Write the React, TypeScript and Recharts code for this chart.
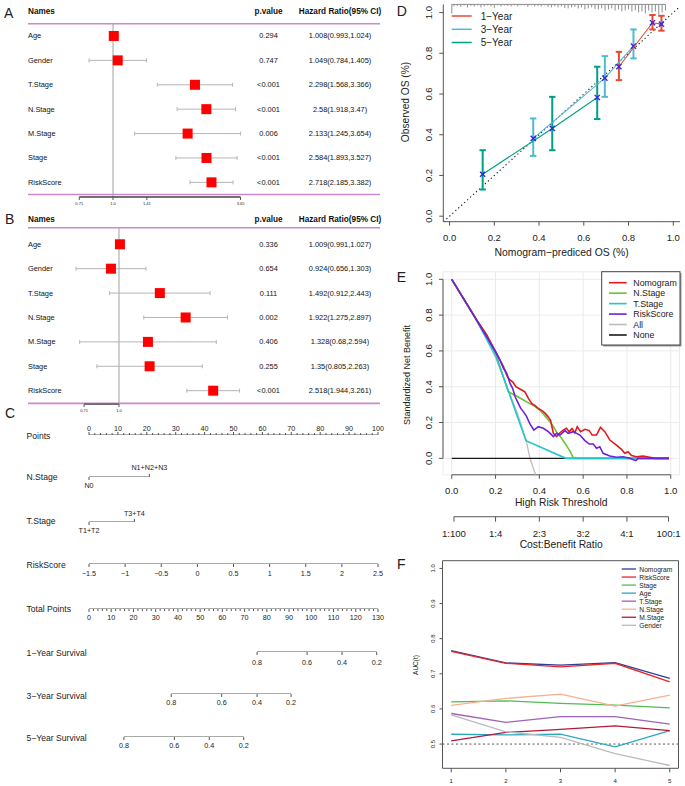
import React from "react";
import {
  ScatterChart,
  Scatter,
  LineChart,
  Line,
  ComposedChart,
  XAxis,
  YAxis,
  ErrorBar,
  ReferenceLine,
  ReferenceArea,
  CartesianGrid,
} from "recharts";

const FONT = "'Liberation Sans', Arial, Helvetica, sans-serif";
const INK = "#222";
const AXIS = "#555";
const PINK = "#CE88CE";

// A / B: Cox regression forest plots
const coxNames = ["Age", "Gender", "T.Stage", "N.Stage", "M.Stage", "Stage", "RiskScore"];
const uniHR = [1.008, 1.049, 2.298, 2.58, 2.133, 2.584, 2.718];
const uniLow = [0.993, 0.784, 1.568, 1.918, 1.245, 1.893, 2.185];
const uniHigh = [1.024, 1.405, 3.366, 3.47, 3.654, 3.527, 3.382];
const uniP = ["0.294", "0.747", "<0.001", "<0.001", "0.006", "<0.001", "<0.001"];
const uniTicks = [0.71, 1.0, 1.41, 3.65];
const uniTickLabels = ["0.71", "1.0", "1.41", "3.65"];

const multiHR = [1.009, 0.924, 1.492, 1.922, 1.328, 1.35, 2.518];
const multiLow = [0.991, 0.656, 0.912, 1.275, 0.68, 0.805, 1.944];
const multiHigh = [1.027, 1.303, 2.443, 2.897, 2.594, 2.263, 3.261];
const multiP = ["0.336", "0.654", "0.111", "0.002", "0.406", "0.255", "<0.001"];
const multiTicks = [0.71, 1.0];
const multiTickLabels = ["0.71", "1.0"];

// C: nomogram scales
const pointsTicks = Array.from({ length: 51 }, (_, k) => k * 2);
const nStageLevels = ["N0", "N1+N2+N3"];
const nStagePoints = [0, 20.9];
const tStageLevels = ["T1+T2", "T3+T4"];
const tStagePoints = [0, 15.7];
const riskScoreTicks = [-1.5, -1, -0.5, 0, 0.5, 1, 1.5, 2, 2.5];
const totalTicks = Array.from({ length: 66 }, (_, k) => k * 2);
const survLabels = ["0.8", "0.6", "0.4", "0.2"];
const surv1Points = [75.6, 98.1, 113.8, 129.4];
const surv3Points = [37.0, 59.7, 75.6, 90.9];
const surv5Points = [15.7, 38.4, 54.1, 69.6];

// D: calibration curves
const cal1Pred = [0.757, 0.907, 0.947];
const cal1Obs = [0.734, 0.95, 0.943];
const cal1Lo = [0.668, 0.917, 0.911];
const cal1Hi = [0.807, 0.988, 0.984];
const cal3Pred = [0.374, 0.694, 0.822];
const cal3Obs = [0.382, 0.678, 0.835];
const cal3Lo = [0.296, 0.586, 0.775];
const cal3Hi = [0.48, 0.786, 0.917];
const cal5Pred = [0.148, 0.459, 0.66];
const cal5Obs = [0.206, 0.431, 0.583];
const cal5Lo = [0.131, 0.324, 0.477];
const cal5Hi = [0.324, 0.586, 0.734];
const rugX = [0.01, 0.02, 0.035, 0.05, 0.065, 0.08, 0.095, 0.11, 0.125, 0.14, 0.155, 0.17, 0.185, 0.2, 0.215, 0.23, 0.245, 0.26, 0.275, 0.29, 0.305, 0.32, 0.335, 0.35, 0.365, 0.38, 0.395, 0.41, 0.425, 0.44, 0.455, 0.47, 0.485, 0.5, 0.515, 0.53, 0.545, 0.56, 0.575, 0.59, 0.605, 0.62, 0.635, 0.65, 0.665, 0.68, 0.695, 0.71, 0.725, 0.74, 0.755, 0.77, 0.785, 0.8, 0.815, 0.83, 0.845, 0.86, 0.875, 0.89, 0.905, 0.92, 0.935, 0.95, 0.965];
const rugN = [9, 2, 1.5, 2.5, 1, 3, 1.5, 2, 1, 3, 2, 1, 2, 3.5, 1, 2, 1, 1.5, 2, 1, 2, 1, 1, 2.5, 1, 2, 1.5, 2, 1, 2.5, 3, 2, 3, 2, 3.5, 4, 3, 2.5, 4, 3, 5, 4, 3, 4.5, 5, 4, 6, 5, 4, 6, 5, 7, 6, 5, 7, 6, 8, 7, 9, 6, 8, 7, 10, 8, 6];

// E: decision curves (threshold, standardized net benefit)
const dcaNomoT = [0, 0.099, 0.16, 0.2, 0.236, 0.254, 0.266, 0.278, 0.293, 0.319, 0.334, 0.35, 0.365, 0.38, 0.395, 0.415, 0.427, 0.439, 0.451, 0.464, 0.479, 0.494, 0.509, 0.524, 0.536, 0.549, 0.562, 0.573, 0.588, 0.608, 0.628, 0.641, 0.661, 0.679, 0.699, 0.722, 0.752, 0.775, 0.79, 0.805, 0.821, 0.843, 0.874, 0.904, 0.927, 0.992];
const dcaNomoV = [1, 0.801, 0.689, 0.596, 0.512, 0.456, 0.438, 0.428, 0.4, 0.382, 0.371, 0.335, 0.307, 0.294, 0.279, 0.264, 0.251, 0.233, 0.214, 0.14, 0.121, 0.143, 0.158, 0.168, 0.149, 0.166, 0.143, 0.177, 0.149, 0.162, 0.155, 0.13, 0.13, 0.173, 0.149, 0.102, 0.074, 0.05, 0.028, 0.037, 0.015, 0.009, 0.013, 0.006, 0, 0];
const dcaNT = [0, 0.099, 0.2, 0.258, 0.3, 0.327, 0.35, 0.38, 0.401, 0.42, 0.448, 0.46, 0.482, 0.5, 0.524, 0.54, 0.556, 0.992];
const dcaNV = [1, 0.801, 0.587, 0.372, 0.345, 0.326, 0.31, 0.29, 0.27, 0.245, 0.205, 0.185, 0.14, 0.115, 0.071, 0.04, 0, 0];
const dcaTT = [0, 0.099, 0.2, 0.339, 0.521, 0.992];
const dcaTV = [1, 0.801, 0.577, 0.099, 0, 0];
const dcaRiskT = [0, 0.099, 0.2, 0.22, 0.236, 0.251, 0.266, 0.278, 0.289, 0.304, 0.315, 0.327, 0.342, 0.357, 0.375, 0.395, 0.418, 0.441, 0.464, 0.479, 0.494, 0.517, 0.532, 0.555, 0.585, 0.608, 0.628, 0.646, 0.661, 0.676, 0.691, 0.722, 0.752, 0.783, 0.813, 0.84, 0.851, 0.992];
const dcaRiskV = [1, 0.801, 0.596, 0.549, 0.503, 0.475, 0.419, 0.391, 0.345, 0.307, 0.279, 0.261, 0.233, 0.192, 0.158, 0.177, 0.168, 0.149, 0.121, 0.14, 0.13, 0.155, 0.14, 0.149, 0.13, 0.099, 0.08, 0.08, 0.056, 0.065, 0.028, 0.013, 0.006, 0.009, 0, -0.013, 0, 0];
const dcaAllT = [0, 0.1, 0.2, 0.3, 0.34, 0.357, 0.383];
const dcaAllV = [1, 0.806, 0.563, 0.25, 0.1, 0, -0.092];
const dcaNoneT = [0, 0.99];
const dcaNoneV = [0, 0];
const cbTicks = [0.01, 0.2, 0.4, 0.6, 0.8, 0.99];
const cbLabels = ["1:100", "1:4", "2:3", "3:2", "4:1", "100:1"];

// F: time-dependent AUC
const aucTimes = [1, 2, 3, 4, 5];
const aucNomogram = [0.766, 0.731, 0.725, 0.732, 0.687];
const aucRiskScore = [0.764, 0.73, 0.72, 0.73, 0.677];
const aucStage = [0.62, 0.623, 0.616, 0.611, 0.603];
const aucAge = [0.528, 0.526, 0.528, 0.492, 0.538];
const aucTStage = [0.587, 0.562, 0.578, 0.578, 0.557];
const aucNStage = [0.61, 0.63, 0.642, 0.608, 0.639];
const aucMStage = [0.509, 0.533, 0.542, 0.552, 0.538];
const aucGender = [0.583, 0.535, 0.519, 0.473, 0.439];

const unitTicks = [0, 0.2, 0.4, 0.6, 0.8, 1.0];

function axisTick(o: any) {
  return (p: any) => {
    const v = p.payload.value;
    const i = p.index;
    const isUp = o.up ? o.up(i) : false;
    const isMajor = o.major ? o.major(v) : true;
    const len = isMajor ? o.len : o.minorLen ?? o.len;
    const s = isUp ? -1 : 1;
    const off = isUp ? o.offUp ?? 8 : o.offDown ?? 8;
    const label = isMajor ? o.text(v, i) : "";
    return (
      <g>
        <line x1={p.x} x2={p.x} y1={p.y} y2={p.y + s * len} stroke={o.color ?? AXIS} strokeWidth={1} />
        {label !== "" && (
          <text x={p.x} y={p.y + s * off} textAnchor="middle" dominantBaseline="central" fontSize={o.size} fontFamily={FONT} fill={INK}>
            {label}
          </text>
        )}
      </g>
    );
  };
}

function rotTick(len: number, off: number, size: number, fmt: (v: number) => string) {
  return (p: any) => {
    const tx = p.x - off;
    return (
      <g>
        <line x1={p.x} x2={p.x - len} y1={p.y} y2={p.y} stroke={AXIS} />
        <text x={tx} y={p.y} transform={`rotate(-90 ${tx} ${p.y})`} textAnchor="middle" dominantBaseline="central" fontSize={size} fontFamily={FONT} fill={INK}>
          {fmt(p.payload.value)}
        </text>
      </g>
    );
  };
}

const redSquare = (p: any) => <rect x={p.cx - 5} y={p.cy - 5} width={10} height={10} fill="#FF0000" />;

function Forest(props: any) {
  const { top, hr, low, high, pv, ticks, tickLabels, xDomain, yDomain, headerLine, bottomLine, marginTop, axisHeight } = props;
  const rows = hr.map((v: number, i: number) => ({ row: i, hr: v, err: [v - low[i], high[i] - v] }));
  const rowTicks = [-1, ...coxNames.map((_, i) => i)];
  const nameTick = (t: any) => {
    const i = t.payload.value;
    const head = i < 0;
    const common: any = { y: t.y, dominantBaseline: "central", fontFamily: FONT, fill: "#111", fontSize: head ? 8.2 : 7.4, fontWeight: head ? 700 : 400 };
    return (
      <g>
        <text x={t.x} textAnchor="start" {...common}>{head ? "Names" : coxNames[i]}</text>
        <text x={t.x + 240.5} textAnchor="middle" {...common}>{head ? "p.value" : pv[i]}</text>
        <text x={t.x + 312} textAnchor="middle" {...common}>{head ? "Hazard Ratio(95% CI)" : `${hr[i]}(${low[i]},${high[i]})`}</text>
      </g>
    );
  };
  return (
    <div style={{ position: "absolute", left: 0, top, width: 390, height: 210 }}>
      <ScatterChart width={390} height={210} margin={{ top: marginTop, right: 10, bottom: 0, left: 27 }}>
        <XAxis
          type="number"
          dataKey="hr"
          scale="log"
          domain={xDomain}
          allowDataOverflow
          ticks={ticks}
          interval={0}
          axisLine={false}
          tickLine={false}
          tickSize={0}
          tickMargin={0}
          height={axisHeight}
          tick={axisTick({ len: 3, offDown: 6, size: 4, text: (_v: number, i: number) => tickLabels[i] })}
        />
        <YAxis
          type="number"
          dataKey="row"
          domain={yDomain}
          allowDataOverflow
          reversed
          ticks={rowTicks}
          interval={0}
          width={1}
          axisLine={false}
          tickLine={false}
          tickSize={0}
          tickMargin={0}
          tick={nameTick}
        />
        <ReferenceLine y={headerLine} stroke={PINK} strokeWidth={1.6} />
        <ReferenceLine y={bottomLine} stroke={PINK} strokeWidth={1.6} />
        <ReferenceLine segment={[{ x: 1, y: headerLine }, { x: 1, y: yDomain[1] }]} stroke="#A0A0A0" ifOverflow="visible" />
        <ReferenceLine
          segment={[{ x: ticks[0], y: yDomain[1] }, { x: ticks[ticks.length - 1], y: yDomain[1] }]}
          stroke="#444"
          strokeWidth={1.4}
          ifOverflow="visible"
        />
        <Scatter data={rows} shape={redSquare} isAnimationActive={false}>
          <ErrorBar dataKey="err" direction="x" width={2} stroke="#B5B5B5" strokeWidth={1} />
        </Scatter>
      </ScatterChart>
    </div>
  );
}

function NomoRow(props: any) {
  const { lineY, domain, ticks, from, to, text, up, major, offUp, offDown, minorLen } = props;
  const H = 32;
  const base = 16;
  return (
    <div style={{ position: "absolute", left: 0, top: lineY - base, width: 390, height: H }}>
      <LineChart width={390} height={H} margin={{ top: 2, right: 12, bottom: 0, left: 89 }}>
        <XAxis
          type="number"
          dataKey="x"
          domain={domain}
          allowDataOverflow
          ticks={ticks}
          interval={0}
          axisLine={false}
          tickLine={false}
          tickSize={0}
          tickMargin={0}
          height={H - base}
          tick={axisTick({ len: 3, minorLen: minorLen ?? 3, size: 7.2, text, up, major, offUp, offDown, color: "#555" })}
        />
        <YAxis hide width={0} type="number" dataKey="y" domain={[0, 1]} allowDataOverflow />
        <Line data={[{ x: from, y: 0 }, { x: to, y: 0 }]} dataKey="y" stroke="#555" strokeWidth={1} dot={false} isAnimationActive={false} />
      </LineChart>
    </div>
  );
}

const signed = (v: number) => (v < 0 ? "\u2212" + Math.abs(v) : String(v));

function Nomogram() {
  return (
    <>
      <NomoRow lineY={435} domain={[0, 100]} ticks={pointsTicks} from={0} to={100} up={() => true} major={(v: number) => v % 10 === 0} minorLen={2} offUp={7} text={(v: number) => String(v)} />
      <NomoRow lineY={477.2} domain={[0, 100]} ticks={nStagePoints} from={nStagePoints[0]} to={nStagePoints[1]} up={(i: number) => i === 1} offUp={9.5} offDown={8.5} text={(_v: number, i: number) => nStageLevels[i]} />
      <NomoRow lineY={522.2} domain={[0, 100]} ticks={tStagePoints} from={tStagePoints[0]} to={tStagePoints[1]} up={(i: number) => i === 1} offUp={9} offDown={8.6} text={(_v: number, i: number) => tStageLevels[i]} />
      <NomoRow lineY={564.3} domain={[-1.5, 2.5]} ticks={riskScoreTicks} from={-1.5} to={2.5} offDown={9} text={(v: number) => signed(v)} />
      <NomoRow lineY={609} domain={[0, 130]} ticks={totalTicks} from={0} to={130} major={(v: number) => v % 10 === 0} minorLen={2} offDown={8} text={(v: number) => String(v)} />
      <NomoRow lineY={652} domain={[0, 130]} ticks={surv1Points} from={surv1Points[0]} to={surv1Points[3]} offDown={10} text={(_v: number, i: number) => survLabels[i]} />
      <NomoRow lineY={694.3} domain={[0, 130]} ticks={surv3Points} from={surv3Points[0]} to={surv3Points[3]} offDown={8.4} text={(_v: number, i: number) => survLabels[i]} />
      <NomoRow lineY={737.3} domain={[0, 130]} ticks={surv5Points} from={surv5Points[0]} to={surv5Points[3]} offDown={8.7} text={(_v: number, i: number) => survLabels[i]} />
    </>
  );
}

const calColors = { y1: "#E64B35", y3: "#4DBBD5", y5: "#00A087" };

const xMark = (p: any) => (
  <g stroke="#2B2BE6" strokeWidth={1.4}>
    <line x1={p.cx - 2.6} y1={p.cy - 2.6} x2={p.cx + 2.6} y2={p.cy + 2.6} />
    <line x1={p.cx - 2.6} y1={p.cy + 2.6} x2={p.cx + 2.6} y2={p.cy - 2.6} />
  </g>
);

function Calibration() {
  const mk = (pred: number[], obs: number[], lo: number[], hi: number[]) =>
    pred.map((x, i) => ({ x, y: obs[i], err: [obs[i] - lo[i], hi[i] - obs[i]] }));
  const series = [
    { key: "5", color: calColors.y5, data: mk(cal5Pred, cal5Obs, cal5Lo, cal5Hi) },
    { key: "3", color: calColors.y3, data: mk(cal3Pred, cal3Obs, cal3Lo, cal3Hi) },
    { key: "1", color: calColors.y1, data: mk(cal1Pred, cal1Obs, cal1Lo, cal1Hi) },
  ];
  const rug = rugX.map((x, i) => ({ x, y: 0, e: [0, rugN[i]] }));
  return (
    <div style={{ position: "absolute", left: 390, top: 0, width: 295, height: 260 }}>
      <ScatterChart width={295} height={260} margin={{ top: 4.4, right: 5, bottom: 0, left: 0 }}>
        <XAxis
          type="number"
          dataKey="x"
          domain={[-0.028, 1.03]}
          allowDataOverflow
          ticks={unitTicks}
          interval={0}
          axisLine={{ stroke: AXIS }}
          tickLine={false}
          tickSize={0}
          tickMargin={0}
          height={38.3}
          tick={axisTick({ len: 4, offDown: 15.3, size: 9.5, text: (v: number) => v.toFixed(1) })}
        />
        <YAxis
          type="number"
          dataKey="y"
          domain={[-0.027, 1.04]}
          allowDataOverflow
          ticks={unitTicks}
          interval={0}
          axisLine={{ stroke: AXIS }}
          tickLine={false}
          tickSize={0}
          tickMargin={0}
          width={53.3}
          tick={rotTick(4, 15, 9.5, (v) => v.toFixed(1))}
        />
        <YAxis yAxisId="rug" hide width={0} type="number" dataKey="y" domain={[0, 217]} allowDataOverflow reversed />
        <ReferenceLine segment={[{ x: -0.027, y: -0.027 }, { x: 1.03, y: 1.03 }]} stroke="#111" strokeWidth={1.1} strokeDasharray="1.2 2.8" />
        <ReferenceLine yAxisId="rug" segment={[{ x: rugX[0], y: 0 }, { x: rugX[rugX.length - 1], y: 0 }]} stroke="#8C8C8C" />
        <Scatter yAxisId="rug" data={rug} shape={() => <g />} isAnimationActive={false}>
          <ErrorBar dataKey="e" direction="y" width={0} stroke="#8C8C8C" strokeWidth={1} />
        </Scatter>
        {series.map((s) => (
          <Scatter key={s.key} data={s.data} line={{ stroke: s.color, strokeWidth: 1.1 }} lineType="joint" shape={xMark} isAnimationActive={false}>
            <ErrorBar dataKey="err" direction="y" width={3.2} stroke={s.color} strokeWidth={2} />
          </Scatter>
        ))}
      </ScatterChart>
    </div>
  );
}

const dcaColors = { nomo: "#E3191C", n: "#69C436", t: "#21C7CC", risk: "#6A22DA", all: "#BDBDBD", none: "#1A1A1A" };

function Decision() {
  const pts = (t: number[], v: number[]) => t.map((x, i) => ({ t: x, v: v[i] }));
  return (
    <div style={{ position: "absolute", left: 390, top: 260, width: 295, height: 292 }}>
      <ComposedChart width={295} height={292} margin={{ top: 11.8, right: 5.5, bottom: 0, left: 0 }}>
        <CartesianGrid xAxisId="a_thr" stroke="#EBEBEB" strokeWidth={1} />
        <XAxis
          xAxisId="b_cb"
          type="number"
          dataKey="t"
          domain={[-0.04, 1.04]}
          allowDataOverflow
          ticks={cbTicks}
          interval={0}
          axisLine={false}
          tickLine={false}
          tickSize={0}
          tickMargin={0}
          height={35.3}
          tick={axisTick({ len: 5, offDown: 16.6, size: 9.6, text: (_v: number, i: number) => cbLabels[i] })}
        />
        <XAxis
          xAxisId="a_thr"
          type="number"
          dataKey="t"
          domain={[-0.04, 1.04]}
          allowDataOverflow
          ticks={unitTicks}
          interval={0}
          axisLine={false}
          tickLine={false}
          tickSize={0}
          tickMargin={0}
          height={41.9}
          tick={axisTick({ len: 4, offDown: 15.2, size: 9.6, text: (v: number) => v.toFixed(1) })}
        />
        <YAxis
          type="number"
          dataKey="v"
          domain={[-0.092, 1.042]}
          allowDataOverflow
          ticks={unitTicks}
          interval={0}
          axisLine={false}
          tickLine={false}
          tickSize={0}
          tickMargin={0}
          width={53}
          tick={rotTick(4, 14.7, 9.6, (v) => v.toFixed(1))}
        />
        <ReferenceLine xAxisId="a_thr" segment={[{ x: -0.04, y: 0 }, { x: -0.04, y: 1 }]} stroke={AXIS} ifOverflow="visible" />
        <ReferenceLine xAxisId="a_thr" segment={[{ x: 0, y: -0.092 }, { x: 1, y: -0.092 }]} stroke={AXIS} ifOverflow="visible" />
        <ReferenceLine xAxisId="a_thr" segment={[{ x: cbTicks[0], y: -0.3263 }, { x: cbTicks[5], y: -0.3263 }]} stroke={AXIS} ifOverflow="visible" />
        <Line xAxisId="a_thr" data={pts(dcaAllT, dcaAllV)} dataKey="v" stroke={dcaColors.all} strokeWidth={1.3} dot={false} isAnimationActive={false} />
        <Line xAxisId="b_cb" data={pts(dcaNoneT, dcaNoneV)} dataKey="v" stroke={dcaColors.none} strokeWidth={1.3} dot={false} isAnimationActive={false} />
        <Line xAxisId="a_thr" data={pts(dcaNT, dcaNV)} dataKey="v" stroke={dcaColors.n} strokeWidth={1.6} dot={false} isAnimationActive={false} />
        <Line xAxisId="a_thr" data={pts(dcaTT, dcaTV)} dataKey="v" stroke={dcaColors.t} strokeWidth={1.6} dot={false} isAnimationActive={false} />
        <Line xAxisId="a_thr" data={pts(dcaNomoT, dcaNomoV)} dataKey="v" stroke={dcaColors.nomo} strokeWidth={1.6} dot={false} isAnimationActive={false} />
        <Line xAxisId="a_thr" data={pts(dcaRiskT, dcaRiskV)} dataKey="v" stroke={dcaColors.risk} strokeWidth={1.6} dot={false} isAnimationActive={false} />
      </ComposedChart>
    </div>
  );
}

const aucSeries = [
  { key: "Nomogram", color: "#2E3D98", values: aucNomogram },
  { key: "RiskScore", color: "#E8262A", values: aucRiskScore },
  { key: "Stage", color: "#52BC52", values: aucStage },
  { key: "Age", color: "#2AA8C0", values: aucAge },
  { key: "T.Stage", color: "#A062B8", values: aucTStage },
  { key: "N.Stage", color: "#F7B08F", values: aucNStage },
  { key: "M.Stage", color: "#B5173A", values: aucMStage },
  { key: "Gender", color: "#BBBBBB", values: aucGender },
];

function TimeAuc() {
  const data = aucTimes.map((t, i) => {
    const row: any = { t };
    aucSeries.forEach((s) => (row[s.key] = s.values[i]));
    return row;
  });
  return (
    <div style={{ position: "absolute", left: 390, top: 545, width: 295, height: 241 }}>
      <LineChart width={295} height={241} data={data} margin={{ top: 15.7, right: 6.5, bottom: 0, left: 0 }}>
        <XAxis
          type="number"
          dataKey="t"
          domain={[0.84, 5.16]}
          allowDataOverflow
          ticks={aucTimes}
          interval={0}
          axisLine={false}
          tickLine={false}
          tickSize={0}
          tickMargin={0}
          height={17.7}
          tick={axisTick({ len: 4, offDown: 12.4, size: 6, text: (v: number) => String(v) })}
        />
        <YAxis
          type="number"
          domain={[0.431, 1.022]}
          allowDataOverflow
          ticks={[0.5, 0.6, 0.7, 0.8, 0.9, 1.0]}
          interval={0}
          axisLine={false}
          tickLine={false}
          tickSize={0}
          tickMargin={0}
          width={52.5}
          tick={rotTick(3, 9.2, 6, (v) => v.toFixed(1))}
        />
        <ReferenceArea x1={0.84} x2={5.16} y1={0.431} y2={1.022} fill="none" stroke={AXIS} strokeWidth={1} ifOverflow="visible" />
        <ReferenceLine y={0.5} stroke="#555" strokeDasharray="2 2.5" />
        {aucSeries.map((s) => (
          <Line key={s.key} dataKey={s.key} stroke={s.color} strokeWidth={1.3} dot={false} isAnimationActive={false} />
        ))}
      </LineChart>
    </div>
  );
}

function T(props: any) {
  const { x, y, size, anchor, rot, weight, children } = props;
  return (
    <text
      x={x}
      y={y}
      fontSize={size}
      textAnchor={anchor ?? "start"}
      dominantBaseline="central"
      fontFamily={FONT}
      fill={INK}
      fontWeight={weight ?? 400}
      transform={rot ? `rotate(-90 ${x} ${y})` : undefined}
    >
      {children}
    </text>
  );
}

function Overlay() {
  const calLegend = [
    { label: "1\u2212Year", color: calColors.y1, y: 16 },
    { label: "3\u2212Year", color: calColors.y3, y: 29.3 },
    { label: "5\u2212Year", color: calColors.y5, y: 42.5 },
  ];
  const dcaLegend = [
    { label: "Nomogram", color: dcaColors.nomo },
    { label: "N.Stage", color: dcaColors.n },
    { label: "T.Stage", color: dcaColors.t },
    { label: "RiskScore", color: dcaColors.risk },
    { label: "All", color: dcaColors.all },
    { label: "None", color: dcaColors.none },
  ];
  const nomoLabels = [
    { label: "Points", y: 436 },
    { label: "N.Stage", y: 476.7 },
    { label: "T.Stage", y: 521 },
    { label: "RiskScore", y: 565 },
    { label: "Total Points", y: 608.5 },
    { label: "1\u2212Year Survival", y: 653 },
    { label: "3\u2212Year Survival", y: 695.5 },
    { label: "5\u2212Year Survival", y: 738 },
  ];
  return (
    <svg width={685} height={786} style={{ position: "absolute", left: 0, top: 0, pointerEvents: "none" }}>
      <T x={4} y={13.3} size={14}>A</T>
      <T x={5} y={219.3} size={14}>B</T>
      <T x={5} y={413} size={14}>C</T>
      <T x={396.7} y={11.3} size={14}>D</T>
      <T x={396.7} y={276.7} size={14}>E</T>
      <T x={397} y={564} size={14}>F</T>

      {nomoLabels.map((r) => (
        <T key={r.label} x={26.5} y={r.y} size={8.6}>{r.label}</T>
      ))}

      {calLegend.map((l) => (
        <g key={l.label}>
          <line x1={451.7} x2={471.7} y1={l.y} y2={l.y} stroke={l.color} strokeWidth={1.5} />
          <T x={480.7} y={l.y} size={10}>{l.label}</T>
        </g>
      ))}
      <T x={561.6} y={252.7} size={10.4} anchor="middle">Nomogram{"\u2212"}prediced OS (%)</T>
      <T x={405} y={102} size={10.2} anchor="middle" rot>Observed OS (%)</T>

      <T x={561.2} y={502.3} size={10.3} anchor="middle">High Risk Threshold</T>
      <T x={561.2} y={544} size={10.3} anchor="middle">Cost:Benefit Ratio</T>
      <T x={406.7} y={375} size={9} anchor="middle" rot>Standardized Net Benefit</T>
      <rect x={603.2} y={273.2} width={78.3} height={73.3} fill="#9A9A9A" />
      <rect x={601.7} y={271.7} width={78.3} height={73.3} fill="#fff" stroke="#444" strokeWidth={1} />
      {dcaLegend.map((l, i) => (
        <g key={l.label}>
          <line x1={609} x2={626.7} y1={282.7 + i * 10.46} y2={282.7 + i * 10.46} stroke={l.color} strokeWidth={1.6} />
          <T x={633.3} y={282.7 + i * 10.46} size={8.8}>{l.label}</T>
        </g>
      ))}

      <T x={415.7} y={665} size={6.5} anchor="middle" rot>AUC(t)</T>
      {aucSeries.map((s, i) => (
        <g key={s.key}>
          <line x1={621.7} x2={636} y1={569 + i * 8.04} y2={569 + i * 8.04} stroke={s.color} strokeWidth={1.3} />
          <T x={639.3} y={569 + i * 8.04} size={6.7}>{s.key}</T>
        </g>
      ))}
    </svg>
  );
}

export default function App() {
  return (
    <div style={{ position: "fixed", left: 0, top: 0, width: 685, height: 786, background: "#fff", overflow: "hidden", fontFamily: FONT }}>
      <Forest
        top={0}
        hr={uniHR}
        low={uniLow}
        high={uniHigh}
        pv={uniP}
        ticks={uniTicks}
        tickLabels={uniTickLabels}
        xDomain={[0.4219, 15.04]}
        yDomain={[-1.45, 6.6]}
        headerLine={-0.5}
        bottomLine={6.5}
        marginTop={0.6}
        axisHeight={13}
      />
      <Forest
        top={205}
        hr={multiHR}
        low={multiLow}
        high={multiHigh}
        pv={multiP}
        ticks={multiTicks}
        tickLabels={multiTickLabels}
        xDomain={[0.4097, 12.92]}
        yDomain={[-1.45, 6.55]}
        headerLine={-0.68}
        bottomLine={6.52}
        marginTop={3.9}
        axisHeight={10.9}
      />
      <Nomogram />
      <Calibration />
      <Decision />
      <TimeAuc />
      <Overlay />
    </div>
  );
}
